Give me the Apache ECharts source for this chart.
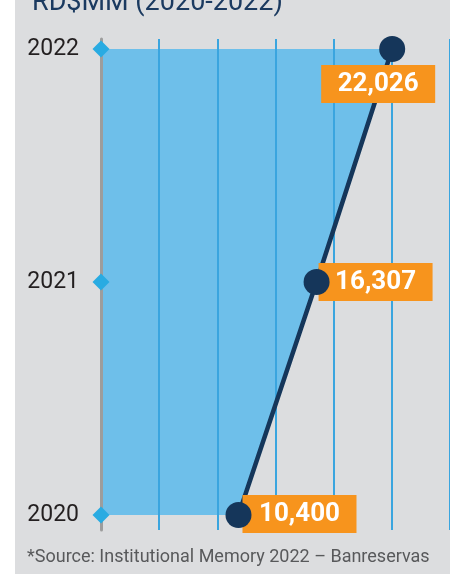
<!DOCTYPE html>
<html lang="en">
<head>
    <meta charset="utf-8">
    <title>RD$MM (2020-2022)</title>
    <script src="https://cdn.jsdelivr.net/npm/echarts@6/dist/echarts.min.js"></script>
    <style>
        html, body { margin: 0; padding: 0; background: #fff; }
        #chart {
            width: 450px; height: 574px;
            background: linear-gradient(to right, #fff 0, #fff 15px, #dcdddf 15px, #dcdddf 100%);
        }
    </style>
</head>
<body>
<div id="chart"></div>
<script>
    // data
    var years = ['2020', '2021', '2022'];
    var amounts = [10400, 16307, 22026];
    var titleText = 'RD$MM (2020-2022)';
    var sourceText = '*Source: Institutional Memory 2022 \u2013 Banreservas';

    var navy = '#15365a';
    var orange = '#f7941d';

    var chartDom = document.getElementById('chart');
    var myChart = echarts.init(chartDom, null, {renderer: 'canvas'});

    var points = years.map(function (y, i) { return [amounts[i], y]; });
    // label box offsets from the marker, per year
    var offsets = [[61, -1], [59, 0], [-14, 35]];

    var option = {
        backgroundColor: 'transparent',
        animation: false,
        title: {
            text: titleText,
            left: 27,
            top: -15,
            textStyle: {fontFamily: 'Roboto', fontSize: 27, fontWeight: 'normal', color: '#1b3a60'}
        },
        grid: [
            {left: 101, width: 354, top: 49, bottom: 59},
            {left: 101, width: 354, top: 39, bottom: 44}
        ],
        xAxis: [
            {gridIndex: 0, type: 'value', min: 0, max: 26400, interval: 4400, show: false},
            {
                gridIndex: 1, type: 'value', min: 0, max: 26400, interval: 4400, z: 2,
                axisLine: {show: false}, axisTick: {show: false}, axisLabel: {show: false},
                splitLine: {show: true, lineStyle: {color: '#3aa5df', width: 2}}
            }
        ],
        yAxis: [
            {
                gridIndex: 0, type: 'category', data: years, boundaryGap: false,
                axisLine: {show: false}, axisTick: {show: false}, splitLine: {show: false},
                axisLabel: {margin: 22, fontFamily: 'Roboto', fontSize: 23, color: '#231f20'}
            },
            {
                gridIndex: 1, type: 'value', min: 0, max: 1, z: 2,
                axisLine: {show: true, lineStyle: {color: '#9d9d9d', width: 3}},
                axisTick: {show: false}, axisLabel: {show: false}, splitLine: {show: false}
            }
        ],
        series: [
            {
                name: 'area', type: 'line', z: 1, data: points, symbol: 'none',
                lineStyle: {width: 0}, areaStyle: {color: '#6ebfea', opacity: 1}
            },
            {
                name: 'line', type: 'line', z: 3, data: points, symbol: 'none',
                lineStyle: {color: navy, width: 4.5}
            },
            {
                name: 'labels', type: 'scatter', z: 4,
                data: points.map(function (p, i) {
                    return {value: p, label: {offset: offsets[i]}};
                }),
                symbolSize: 26,
                itemStyle: {color: 'transparent', opacity: 1},
                label: {
                    show: true, position: 'inside',
                    formatter: function (p) { return p.value[0].toLocaleString('en-US'); },
                    backgroundColor: orange, color: '#fff', opacity: 1,
                    fontFamily: 'Roboto', fontWeight: 'bold', fontSize: 26,
                    width: 86, align: 'center', lineHeight: 26, padding: [6, 14]
                }
            },
            {
                name: 'markers', type: 'scatter', z: 5, data: points,
                symbol: 'circle', symbolSize: 26, itemStyle: {color: navy, opacity: 1}
            },
            {
                name: 'ticks', type: 'scatter', z: 5,
                data: years.map(function (y) { return [0, y]; }),
                symbol: 'diamond', symbolSize: 17, itemStyle: {color: '#29abe2', opacity: 1}
            }
        ],
        graphic: [
            {
                type: 'text', left: 27, top: 548,
                style: {
                    text: sourceText,
                    fontFamily: 'Roboto', fontSize: 18, fill: '#58595b'
                }
            }
        ]
    };

    myChart.setOption(option);
</script>
</body>
</html>
